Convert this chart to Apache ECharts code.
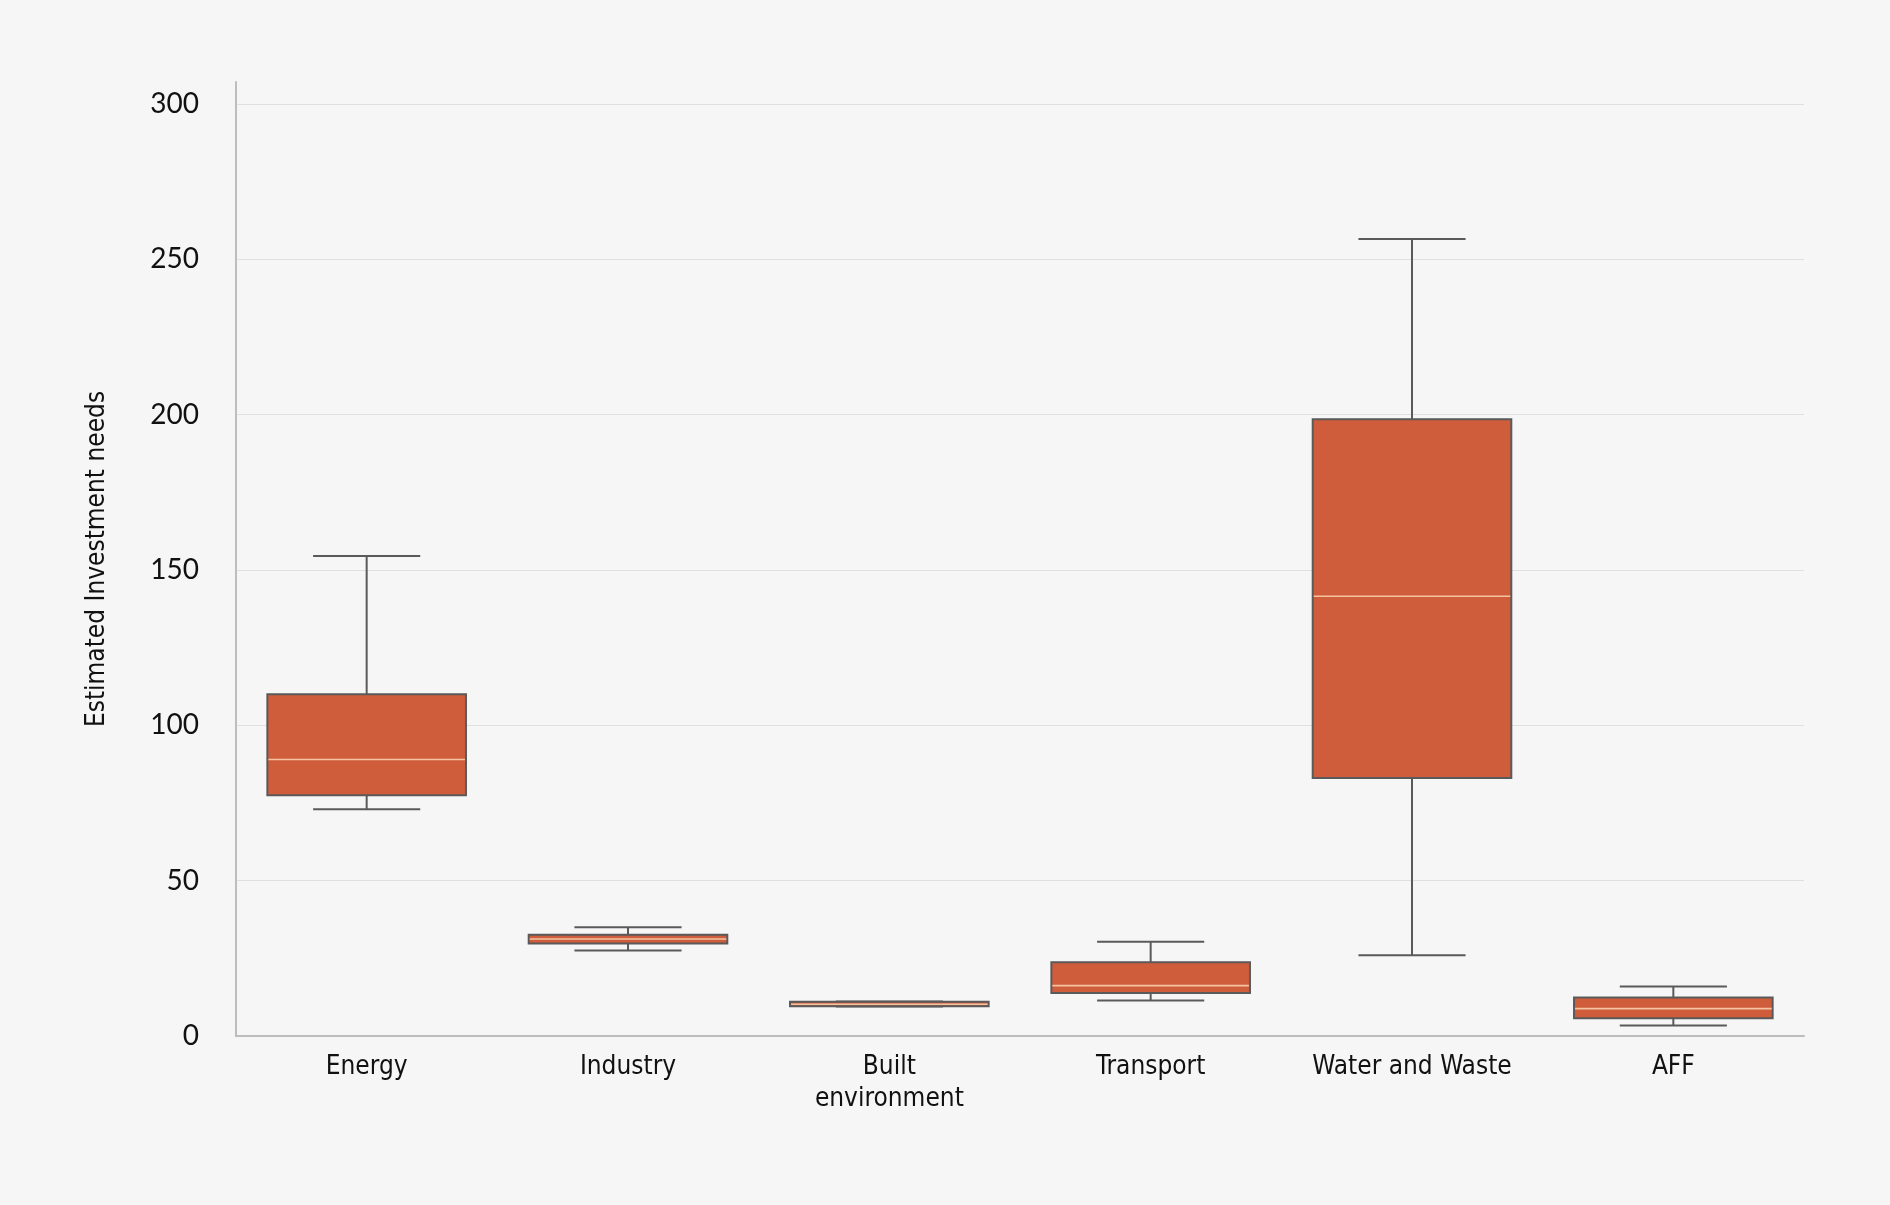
<!DOCTYPE html>
<html>
<head>
<meta charset="utf-8">
<script src="https://cdn.jsdelivr.net/npm/echarts@6/dist/echarts.min.js"></script>
<style>
html,body{margin:0;padding:0;background:#F6F6F6;}
#chart{width:1890px;height:1205px;}
</style>
</head>
<body>
<div id="chart"></div>
<script>
const categories = ['Energy', 'Industry', 'Built\nenvironment', 'Transport', 'Water and Waste', 'AFF'];
const lowWhisker  = [73,   27.5, 9.5,  11.4, 26,    3.4];
const q1          = [77.5, 29.8, 9.6,  13.8, 83,    5.7];
const median      = [89,   31.2, 10.2, 16.2, 141.5, 8.8];
const q3          = [110,  32.6, 11,   23.7, 198.5, 12.4];
const highWhisker = [154.5, 35,  11.1, 30.3, 256.5, 15.9];
const yTicks = [0, 50, 100, 150, 200, 250, 300];

const rows = categories.map((c, i) => [i, lowWhisker[i], q1[i], median[i], q3[i], highWhisker[i]]);

const chart = echarts.init(document.getElementById('chart'));
const BOX = '#CF5C3B', EDGE = '#5A5A5A', MED = '#F3C3A2';
const NARROW = "'Liberation Sans Narrow', 'DejaVu Sans Condensed', sans-serif";

chart.setOption({
  backgroundColor: '#F6F6F6',
  animation: false,
  grid: { left: 236, right: 86, top: 82, bottom: 169 },
  xAxis: {
    type: 'category',
    data: categories,
    axisLine: { show: true, lineStyle: { color: '#BDBDBD', width: 2 } },
    axisTick: { show: false },
    axisLabel: {
      interval: 0,
      color: '#111', fontSize: 26, margin: 15, lineHeight: 32,
      fontFamily: NARROW
    },
    splitLine: { show: false }
  },
  yAxis: {
    type: 'value',
    min: 0, max: 307, interval: 50,
    name: 'Estimated Investment needs',
    nameLocation: 'middle',
    nameGap: 126,
    nameTextStyle: { color: '#111', fontSize: 26, fontFamily: NARROW },
    axisLine: { show: true, lineStyle: { color: '#BDBDBD', width: 2 } },
    axisTick: { show: false },
    axisLabel: {
      color: '#111', fontSize: 28, margin: 37, fontFamily: 'Lato, sans-serif',
      showMaxLabel: false,
      formatter: v => (yTicks.indexOf(v) >= 0 ? String(v) : '')
    },
    splitLine: { show: true, showMaxLine: false, lineStyle: { color: '#E0E0E0', width: 1.2 } }
  },
  series: [{
    type: 'custom',
    data: rows,
    encode: { x: 0, y: [1, 2, 3, 4, 5] },
    renderItem: function (params, api) {
      const idx = api.value(0);
      const band = api.size([1, 0])[0];
      const bw = band * 0.76, cw = band * 0.41;
      const pLow = api.coord([idx, api.value(1)]);
      const pQ1 = api.coord([idx, api.value(2)]);
      const pMed = api.coord([idx, api.value(3)]);
      const pQ3 = api.coord([idx, api.value(4)]);
      const pHigh = api.coord([idx, api.value(5)]);
      const x = pMed[0];
      const ls = { stroke: EDGE, lineWidth: 2 };
      return {
        type: 'group',
        children: [
          { type: 'line', shape: { x1: x, y1: pLow[1], x2: x, y2: pQ1[1] }, style: ls },
          { type: 'line', shape: { x1: x, y1: pQ3[1], x2: x, y2: pHigh[1] }, style: ls },
          { type: 'line', shape: { x1: x - cw / 2, y1: pLow[1], x2: x + cw / 2, y2: pLow[1] }, style: ls },
          { type: 'line', shape: { x1: x - cw / 2, y1: pHigh[1], x2: x + cw / 2, y2: pHigh[1] }, style: ls },
          { type: 'rect', shape: { x: x - bw / 2, y: pQ3[1], width: bw, height: pQ1[1] - pQ3[1] },
            style: { fill: BOX, stroke: EDGE, lineWidth: 2 } },
          { type: 'line', shape: { x1: x - bw / 2 + 1, y1: pMed[1], x2: x + bw / 2 - 1, y2: pMed[1] },
            style: { stroke: MED, lineWidth: 1.6 } }
        ]
      };
    }
  }]
});
</script>
</body>
</html>
